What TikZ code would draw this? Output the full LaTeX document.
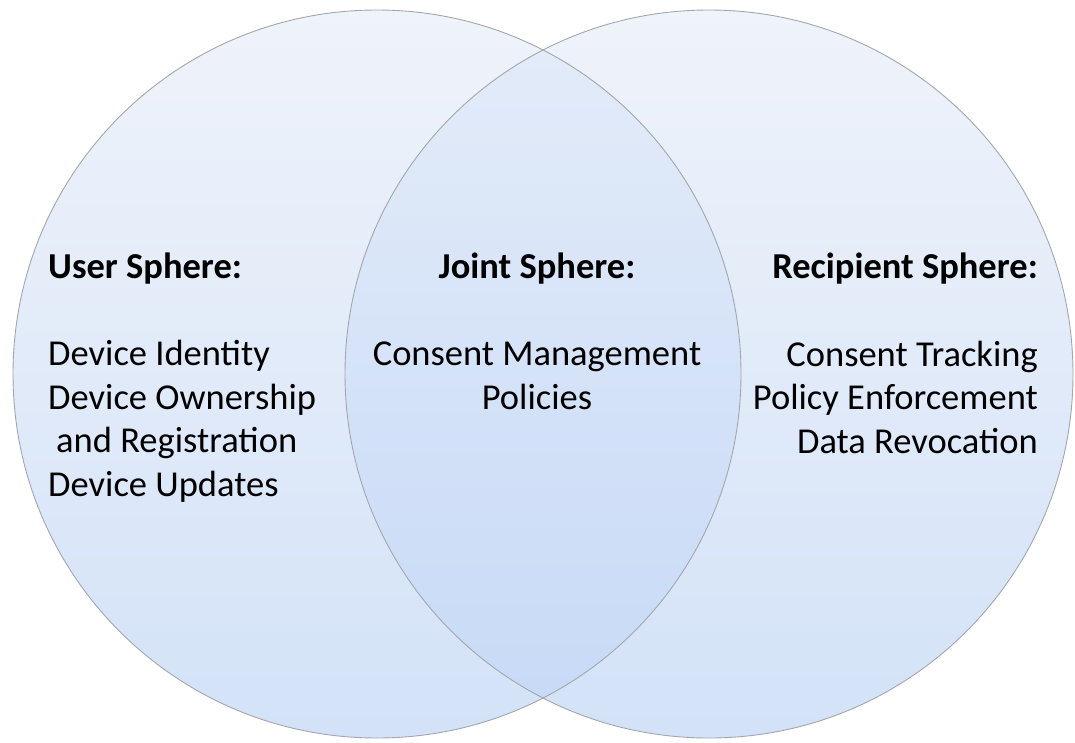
\documentclass[tikz,border=0pt]{standalone}
\usepackage{fontspec}
\setmainfont{Carlito}
\usetikzlibrary{positioning}

\definecolor{spheretop}{HTML}{EFF3FA}
\definecolor{spherebot}{HTML}{D3E2F8}
\definecolor{jointtop}{HTML}{E4ECF9}
\definecolor{jointbot}{HTML}{C6D9F6}
\definecolor{rimgrey}{HTML}{A3A7AC}

\begin{document}
\begin{tikzpicture}[x=1pt,y=-1pt,
    sphere/.style={top color=spheretop, bottom color=spherebot},
    joint/.style={top color=jointtop, bottom color=jointbot},
    rim/.style={draw=rimgrey, line width=0.9pt},
    head/.style={inner sep=0pt, font=\fontsize{36.5}{43.5}\selectfont\bfseries},
    items/.style={inner sep=0pt, font=\fontsize{36.5}{43.5}\selectfont}]
    \useasboundingbox (0,0) rectangle (1075,742);
    \coordinate (user) at (377,374);
    \coordinate (recip) at (709,374);
    % the two spheres
    \shade[sphere] (user) circle [radius=364pt];
    \shade[sphere] (recip) circle [radius=364pt];
    \begin{scope}
        \clip (user) circle [radius=364pt];
        \shade[joint] (recip) circle [radius=364pt];
    \end{scope}
    \draw[rim] (user) circle [radius=364pt];
    \draw[rim] (recip) circle [radius=364pt];
    % texts (base = last line)
    \node[head, anchor=base west] (userhead) at (48,278) {User Sphere:};
    \node[items, align=left, anchor=base west] (userlist) at (48,496)
        {Device Identity\\Device Ownership\\\hspace*{0.22em}and Registration\\Device Updates};
    \node[head, anchor=base] (jointhead) at (537,278) {Joint Sphere:};
    \node[items, align=center, anchor=base] (jointlist) at (537,409)
        {Consent Management\\Policies};
    \node[head, anchor=base east] (reciphead) at (1038,278) {Recipient Sphere:};
    \node[items, align=right, anchor=base east] (reciplist) at (1038,453)
        {Consent Tracking\\Policy Enforcement\\Data Revocation};
\end{tikzpicture}
\end{document}
